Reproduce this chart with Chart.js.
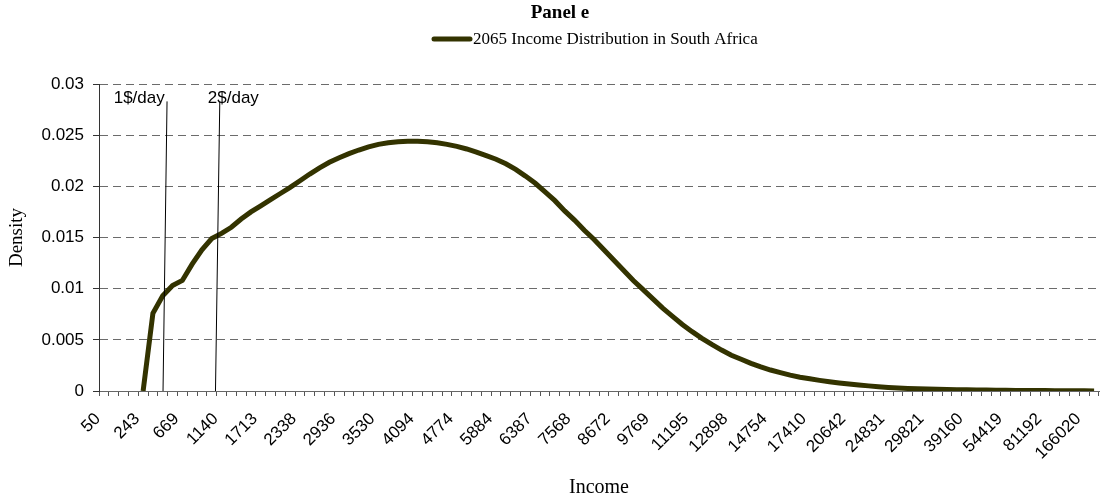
<!DOCTYPE html>
<html>
<head>
<meta charset="utf-8">
<title>Panel e</title>
<script src="https://cdn.jsdelivr.net/npm/chart.js@4/dist/chart.umd.min.js"></script>
<style>
  html, body { margin: 0; padding: 0; background: #fff; }
</style>
</head>
<body>
<canvas id="densityChart" width="1102" height="500"></canvas>
<script>
// Income categories that carry a label (every 4th category on the axis)
const tickLabels = ['50', '243', '669', '1140', '1713', '2338', '2936', '3530', '4094', '4774',
    '5884', '6387', '7568', '8672', '9769', '11195', '12898', '14754', '17410', '20642',
    '24831', '29821', '39160', '54419', '81192', '166020'];
const categoryCount = 102;
const labelEvery = 4;

// Density, one value per income category
const density = [
    null, null, null, null, 0, 0.0076, 0.0093, 0.0103, 0.0108, 0.0124,
    0.0138, 0.0149, 0.0154, 0.0160, 0.0168, 0.0175, 0.0181, 0.0187, 0.0193, 0.0199,
    0.02055, 0.0212, 0.0218, 0.02235, 0.0228, 0.0232, 0.02355, 0.02385, 0.0241, 0.02425,
    0.02435, 0.0244, 0.0244, 0.02435, 0.02425, 0.0241, 0.0239, 0.02365, 0.02335, 0.023,
    0.02265, 0.0222, 0.02165, 0.021, 0.0203, 0.01945, 0.0186, 0.0176, 0.0167, 0.0157,
    0.0148, 0.0138, 0.0128, 0.0118, 0.0108, 0.0099, 0.0090, 0.0081, 0.0073, 0.0065,
    0.0058, 0.00515, 0.00455, 0.0040, 0.0035, 0.0031, 0.0027, 0.00235, 0.00205, 0.0018,
    0.00155, 0.00135, 0.0012, 0.00104, 0.0009, 0.00078, 0.00068, 0.00059, 0.0005, 0.00042,
    0.00035, 0.00029, 0.00025, 0.00022, 0.0002, 0.00017, 0.00015, 0.00013, 0.00012, 0.0001,
    0.00009, 0.00008, 0.00007, 0.00006, 0.00005, 0.00004, 0.00004, 0.00003, 0.00003, 0.00002,
    0.00002, 0.00001
];

const yTicks = [0, 0.005, 0.01, 0.015, 0.02, 0.025, 0.03];

// poverty line markers, in category index / density units
const povertyLines = [
    { text: '1$/day', base: 6.03, top: 6.44, textAt: 1.0 },
    { text: '2$/day', base: 11.38, top: 11.82, textAt: 10.6 }
];
const povertyTop = 0.0283;
const povertyTextLevel = 0.02858;

const chartTitle = 'Panel e';
const seriesName = '2065 Income Distribution in South Africa';
const lineColor = '#333300';

const categories = [];
for (let i = 0; i < categoryCount; i++) {
    categories.push(i % labelEvery === 0 ? tickLabels[i / labelEvery] : '');
}

const headingPlugin = {
    id: 'heading',
    afterDraw(chart) {
        const ctx = chart.ctx;
        ctx.save();
        ctx.fillStyle = '#000';
        ctx.textBaseline = 'middle';
        ctx.textAlign = 'center';
        ctx.font = 'bold 19px "Liberation Serif", "Times New Roman", serif';
        ctx.fillText(chartTitle, 560, 13);

        ctx.strokeStyle = lineColor;
        ctx.lineWidth = 5;
        ctx.lineCap = 'round';
        ctx.beginPath();
        ctx.moveTo(434, 39);
        ctx.lineTo(470, 39);
        ctx.stroke();

        ctx.textAlign = 'left';
        ctx.font = '17px "Liberation Serif", "Times New Roman", serif';
        ctx.fillText(seriesName, 473, 40);
        ctx.restore();
    }
};

const povertyPlugin = {
    id: 'povertyLines',
    afterDatasetsDraw(chart) {
        const ctx = chart.ctx;
        const x = chart.scales.x;
        const y = chart.scales.y;
        ctx.save();
        ctx.strokeStyle = '#000';
        ctx.lineWidth = 1;
        ctx.fillStyle = '#000';
        ctx.font = '17px "Liberation Sans", Arial, sans-serif';
        ctx.textBaseline = 'middle';
        ctx.textAlign = 'left';
        povertyLines.forEach(p => {
            ctx.beginPath();
            ctx.moveTo(x.getPixelForValue(p.base), y.getPixelForValue(0));
            ctx.lineTo(x.getPixelForValue(p.top), y.getPixelForValue(povertyTop));
            ctx.stroke();
            ctx.fillText(p.text, x.getPixelForValue(p.textAt), y.getPixelForValue(povertyTextLevel));
        });
        ctx.restore();
    }
};

const tickFont = { family: '"Liberation Sans", Arial, sans-serif', size: 17 };

new Chart(document.getElementById('densityChart'), {
    type: 'line',
    data: {
        labels: categories,
        datasets: [{
            label: seriesName,
            data: density,
            borderColor: lineColor,
            backgroundColor: lineColor,
            borderWidth: 5,
            pointRadius: 0,
            tension: 0,
            spanGaps: false
        }]
    },
    options: {
        responsive: false,
        animation: false,
        layout: { padding: { top: 84, right: 3, bottom: 0, left: 0 } },
        plugins: {
            legend: { display: false },
            title: { display: false },
            tooltip: { enabled: false }
        },
        scales: {
            x: {
                offset: true,
                grid: { offset: true, drawOnChartArea: false, drawTicks: true, tickLength: 5, tickColor: '#555' },
                border: { display: true, color: '#666' },
                ticks: {
                    autoSkip: false, maxRotation: 45, minRotation: 45, padding: 13,
                    labelOffset: -6, color: '#000', font: tickFont
                },
                title: {
                    display: true, text: 'Income', color: '#000',
                    font: { family: '"Liberation Serif", "Times New Roman", serif', size: 20 },
                    padding: { top: 0, bottom: 0 }
                },
                afterFit(scale) {
                    scale.height = 109;
                    scale.paddingRight = 0;
                }
            },
            y: {
                min: 0,
                max: 0.03,
                afterBuildTicks(scale) { scale.ticks = yTicks.map(v => ({ value: v })); },
                ticks: {
                    color: '#000', font: tickFont, padding: 9,
                    callback: v => String(+Number(v).toFixed(3))
                },
                grid: { color: '#6b6b6b', tickColor: '#333', tickLength: 6, lineWidth: 1 },
                border: { display: true, color: '#333', dash: [8, 5] },
                title: {
                    display: true, text: 'Density', color: '#000',
                    font: { family: '"Liberation Serif", "Times New Roman", serif', size: 19 },
                    padding: { top: 6, bottom: 0 }
                },
                afterFit(scale) { scale.width = 99; }
            }
        }
    },
    plugins: [headingPlugin, povertyPlugin]
});
</script>
</body>
</html>
